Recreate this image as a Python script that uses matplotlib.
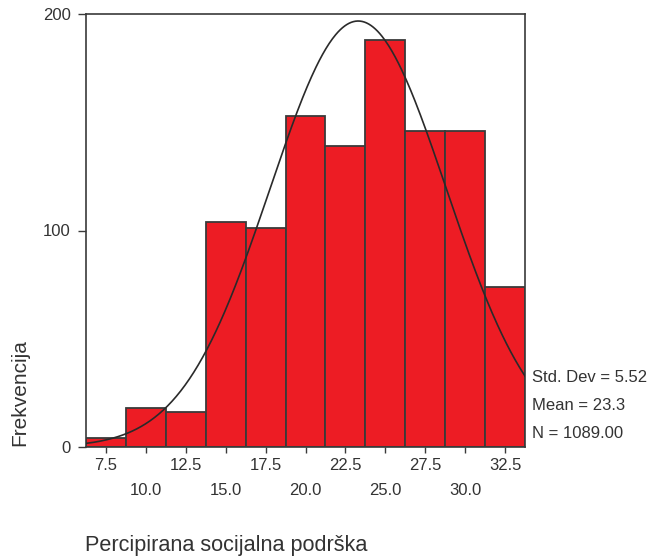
import numpy as np
import matplotlib
matplotlib.use("Agg")
import matplotlib.pyplot as plt

# Bin midpoints (width 2.5) and frequencies
bin_centers = [7.5, 10.0, 12.5, 15.0, 17.5, 20.0, 22.5, 25.0, 27.5, 30.0, 32.5]
frequencies = [4, 18, 16, 104, 101, 153, 139, 188, 146, 146, 74]
bin_width = 2.5

std_dev = 5.52
mean = 23.3
n_total = 1089.00

y_ticks = [0, 100, 200]

plt.rcParams["font.family"] = ["Liberation Sans", "DejaVu Sans"]

fig = plt.figure(figsize=(6.49, 5.59), dpi=100)
ax = fig.add_axes([86 / 649, 1 - 447 / 559, (525 - 86) / 649, (447 - 14) / 559])

ax.bar(bin_centers, frequencies, width=bin_width, color="#ED1C24",
       edgecolor="#3a3a3a", linewidth=1.3, align="center", zorder=2)

# Fitted normal curve, scaled to counts
lo = bin_centers[0] - bin_width / 2
hi = bin_centers[-1] + bin_width / 2
xs = np.linspace(lo, hi, 400)
scale = n_total * bin_width / (std_dev * np.sqrt(2 * np.pi))
ys = scale * np.exp(-0.5 * ((xs - mean) / std_dev) ** 2)
ax.plot(xs, ys, color="#2a2a2a", linewidth=1.2, zorder=3)

ax.set_xlim(lo, hi)
ax.set_ylim(0, 200)

ax.set_xticks(bin_centers)
ax.set_xticklabels([])
ax.tick_params(axis="x", direction="out", length=4, width=1, color="#3a3a3a")
for i, c in enumerate(bin_centers):
    dy = -0.0416 if i % 2 == 0 else -0.1016
    ax.text(c, dy, f"{c:.1f}", transform=ax.get_xaxis_transform(),
            ha="center", va="center", fontsize=12, color="#333333")

ax.set_yticks(y_ticks)
ax.set_yticklabels([str(t) for t in y_ticks], fontsize=12, color="#333333")
ax.tick_params(axis="y", direction="out", length=6, width=1, color="#3a3a3a", pad=5)

for s in ax.spines.values():
    s.set_color("#3a3a3a")
    s.set_linewidth(1.2)

# Summary statistics to the right of the plot
stats = [f"Std. Dev = {std_dev:.2f}", f"Mean = {mean:.1f}", f"N = {n_total:.2f}"]
for txt, ypix in zip(stats, [377, 405, 433]):
    fig.text(532 / 649, 1 - ypix / 559, txt, ha="left", va="center",
             fontsize=12, color="#333333")

fig.text(20 / 649, 1 - 393 / 559, "Frekvencija", rotation=90, ha="center",
         va="center", fontsize=15, color="#333333")
fig.text(85 / 649, 1 - 545 / 559, "Percipirana socijalna podrška", ha="left",
         va="center", fontsize=15.6, color="#333333")

fig.savefig("out.png", dpi=100)
